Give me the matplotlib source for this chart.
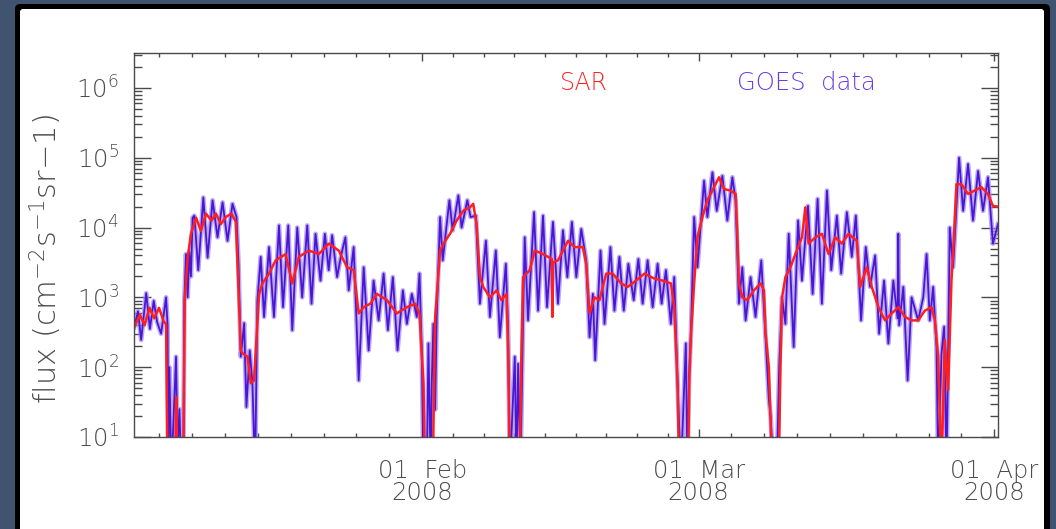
import matplotlib
matplotlib.use("Agg")
import matplotlib.pyplot as plt
import matplotlib.dates as mdates
import matplotlib.ticker as mticker
import numpy as np
from matplotlib.patches import FancyBboxPatch
from matplotlib.transforms import IdentityTransform

# flux as log10 exponents, time as days since 2008-01-01 00:00
goes_day = [
    0.80, 1.20, 1.53, 2.06, 2.45, 2.85, 3.20, 3.62, 4.14, 4.30, 4.38, 4.49, 4.70, 5.19,
    5.35, 5.54, 5.75, 5.95, 6.06, 6.23, 6.41, 6.58, 6.75, 6.93, 7.11, 7.52, 8.05, 8.50,
    9.02, 9.54, 10.07, 10.59, 11.11, 11.53, 11.74, 11.98, 12.33, 12.57, 12.92, 13.20,
    13.48, 13.72, 14.07, 14.42, 14.94, 15.46, 15.99, 16.41, 16.96, 17.38, 17.90, 18.42,
    18.95, 19.40, 19.82, 20.34, 20.80, 21.20, 21.56, 22.08, 22.50, 22.95, 23.30, 23.82,
    24.35, 24.87, 25.39, 25.91, 26.44, 26.96, 27.41, 27.93, 28.42, 28.98, 29.40, 29.92,
    30.44, 30.72, 30.96, 31.14, 31.49, 31.66, 31.90, 32.01, 32.18, 32.36, 32.53, 32.88,
    33.16, 33.86, 34.20, 34.80, 35.14, 35.74, 36.08, 36.64, 37.06, 37.69, 38.11, 38.73,
    39.15, 39.78, 40.02, 40.20, 40.72, 40.89, 41.07, 41.31, 41.59, 41.76, 42.11, 42.74,
    43.16, 43.68, 44.10, 44.72, 45.25, 45.77, 46.23, 46.71, 47.17, 47.69, 48.21, 48.56,
    48.91, 49.15, 49.71, 50.13, 50.75, 51.17, 51.69, 52.15, 52.63, 53.19, 53.68, 54.13,
    54.65, 55.18, 55.70, 56.12, 56.57, 57.09, 57.44, 57.79, 58.14, 58.66, 58.83, 59.01,
    59.18, 59.53, 59.88, 60.57, 60.92, 61.45, 61.90, 62.49, 63.01, 63.54, 63.88, 64.23,
    64.58, 64.93, 65.45, 65.97, 66.57, 67.02, 67.37, 67.55, 67.85, 68.20, 68.45, 68.75,
    69.10, 69.45, 69.97, 70.43, 70.84, 71.47, 71.96, 72.48, 72.93, 73.46, 73.91, 74.50,
    74.95, 75.55, 76.07, 76.49, 77.04, 77.53, 77.98, 78.51, 78.93, 79.45, 79.90, 80.42,
    80.87, 80.94, 81.03, 81.47, 81.92, 82.34, 83.03, 83.56, 83.91, 84.25, 84.60, 84.95,
    85.13, 85.47, 85.75, 86.00, 86.34, 86.69, 87.32, 87.74, 88.26, 88.78, 89.31, 89.83,
    90.35, 90.87, 91.40,
]
goes_exp = [
    2.57, 2.80, 2.39, 3.06, 2.55, 2.95, 2.65, 2.48, 3.00, 2.60, 0.50, 2.00, 0.50, 2.15,
    0.80, 1.40, 0.50, 0.50, 2.95, 3.62, 3.00, 3.65, 3.30, 4.14, 4.17, 3.39, 4.43, 3.57,
    4.39, 3.86, 4.36, 3.81, 4.34, 4.15, 3.49, 2.15, 2.63, 1.43, 2.24, 1.77,
    0.50, 2.95, 3.58, 2.72, 3.72, 2.72, 4.03, 2.86, 4.03, 2.53, 4.00, 3.00,
    4.03, 2.91, 3.91, 3.24, 3.91, 3.39, 3.89, 3.29, 3.60, 3.86, 3.10, 3.72,
    1.81, 3.43, 2.24, 3.24, 2.67, 3.34, 2.53, 3.29, 2.24, 3.10, 2.62, 3.05,
    2.72, 3.34, 2.24, 0.50, 0.50, 2.34, 0.50, 1.77, 2.62, 1.39, 2.72, 4.15,
    3.53, 4.39, 3.96, 4.46, 4.00, 4.39, 4.15, 4.17, 2.91, 3.81, 2.72, 3.67,
    2.43, 3.48, 2.53, 0.50, 2.15, 0.50, 2.05, 0.50, 2.72, 3.86, 2.67, 4.22,
    2.81, 4.17, 2.86, 4.08, 2.91, 3.96, 3.29, 4.08, 3.29, 3.98, 3.53, 2.43,
    3.05, 2.10, 3.67, 2.62, 3.72, 2.81, 3.58, 2.81, 3.48, 2.96, 3.55, 2.91,
    3.53, 2.86, 3.48, 2.91, 3.39, 2.62, 3.29, 1.77, 0.50, 2.34, 0.50, 1.91,
    2.43, 4.15, 3.43, 4.67, 4.15, 4.79, 4.24, 4.74, 4.10, 4.72, 4.39, 2.91,
    3.43, 2.67, 3.29, 2.72, 3.53, 2.43, 1.53, 1.30, 0.50, 0.50, 2.00, 3.00,
    2.62, 3.91, 2.29, 4.10, 3.24, 4.31, 3.05, 4.41, 2.91, 4.53, 3.39, 4.17,
    3.34, 4.22, 3.58, 4.17, 2.67, 3.72, 3.15, 3.60, 2.48, 3.24, 2.34, 3.24,
    2.70, 3.91, 2.60, 3.15, 1.81, 3.00, 2.67, 3.00, 3.62, 2.67, 3.15, 2.29,
    0.50, 2.19, 2.58, 0.50, 4.00, 3.43, 5.00, 4.24, 4.91, 4.10, 4.81, 4.24,
    4.72, 3.77, 4.05,
]

sar_day = [
    0.80, 1.40, 1.90, 2.40, 2.90, 3.40, 3.90, 4.14, 4.30, 5.10, 5.20, 5.35, 5.95, 6.10,
    6.41, 6.75, 7.30, 7.80, 8.33, 8.90, 9.37, 9.90, 10.40, 11.00, 11.46, 11.63, 11.98,
    12.16, 12.68, 13.03, 13.37, 13.72, 13.90, 14.25, 14.94, 15.64, 16.68, 17.38, 18.07,
    19.12, 20.17, 21.21, 22.26, 23.13, 23.82, 24.35, 24.87, 25.57, 26.26, 27.31, 28.35,
    29.40, 30.27, 30.72, 31.14, 31.31, 32.12, 32.36, 32.53, 32.88, 33.23, 33.93, 34.62,
    35.32, 36.02, 36.36, 36.71, 37.06, 37.41, 38.11, 38.80, 39.32, 39.85, 40.02, 40.20,
    41.24, 41.41, 41.59, 41.94, 42.29, 42.81, 43.68, 44.20, 44.60, 44.65, 44.72, 45.25,
    46.30, 46.99, 47.86, 48.21, 48.56, 49.08, 49.60, 50.30, 50.99, 51.87, 52.56, 53.43,
    54.31, 55.35, 56.22, 57.09, 57.44, 57.79, 57.96, 58.90, 59.01, 59.18, 59.53, 59.88,
    60.40, 60.92, 61.62, 62.14, 62.67, 63.36, 63.88, 64.06, 64.23, 64.58, 65.10, 65.80,
    66.50, 66.85, 67.02, 67.37, 67.71, 68.41, 68.58, 68.75, 69.10, 69.63, 70.15, 70.84,
    71.19, 71.54, 72.24, 72.93, 73.63, 74.33, 75.02, 75.72, 76.59, 76.94, 77.64, 78.16,
    78.86, 79.55, 80.25, 80.95, 81.64, 82.34, 83.03, 83.73, 84.43, 84.78, 85.12, 85.47,
    85.82, 86.17, 86.52, 86.80, 87.04, 87.56, 88.26, 88.96, 89.65, 90.35, 90.87, 91.40,
]
sar_exp = [
    2.57, 2.75, 2.60, 2.85, 2.70, 2.85, 2.65, 2.62, 0.50, 0.50, 1.57, 0.50, 0.50, 2.96,
    3.57, 3.91, 4.14, 3.95, 4.20, 4.10, 4.20, 4.05, 4.15, 4.20, 4.08, 3.50, 2.24,
    2.20, 2.15, 1.77, 1.81, 2.62, 3.05, 3.20, 3.34, 3.53, 3.62, 3.20, 3.58,
    3.67, 3.62, 3.77, 3.67, 3.43, 3.39, 2.77, 2.86, 2.91, 3.05, 2.96, 2.77,
    2.86, 2.91, 2.77, 1.77, 0.50, 0.50, 2.71, 3.00, 3.67, 3.77, 3.91, 4.10,
    4.24, 4.29, 4.34, 4.05, 3.29, 3.15, 3.00, 3.10, 2.96, 3.05, 2.24, 0.50,
    0.50, 2.15, 3.29, 3.34, 3.39, 3.67, 3.62, 3.58, 3.55, 2.72, 3.50, 3.53,
    3.81, 3.72, 3.72, 3.48, 2.77, 3.00, 2.96, 3.34, 3.34, 3.20, 3.15, 3.24,
    3.34, 3.27, 3.24, 3.20, 2.86, 1.77, 0.50, 0.50, 1.77, 2.43, 3.20, 3.86,
    4.15, 4.39, 4.58, 4.72, 4.55, 4.53, 4.48, 3.91, 3.20, 3.00, 2.96, 3.10,
    3.20, 3.10, 2.48, 2.00, 0.50, 0.50, 2.00, 3.00, 3.29, 3.43, 3.62, 3.86,
    4.29, 3.77, 3.86, 3.91, 3.62, 3.86, 3.77, 3.91, 3.81, 3.15, 3.43, 3.15,
    2.86, 2.67, 2.77, 2.86, 2.72, 2.67, 2.67, 2.81, 2.86, 2.67, 2.15, 0.50,
    2.39, 1.67, 3.24, 3.91, 4.62, 4.62, 4.48, 4.53, 4.58, 4.48, 4.31, 4.30,
]

month_starts = ["2008-01-01", "2008-02-01", "2008-03-01", "2008-04-01"]
labelled_months = month_starts[1:]

GOES_COLOR = "#4a16d2"
GOES_HALO = "#a48cf2"
SAR_COLOR = "#ff1f1f"
TEXT_COLOR = "#4d4d4d"
AXIS_COLOR = "#4a4a4a"

plt.rcParams["font.family"] = ["DejaVu Sans"]
plt.rcParams["font.weight"] = "light"
plt.rcParams["mathtext.default"] = "regular"

t0 = np.datetime64("2008-01-01T00:00")


def to_time(days):
    minutes = np.round(np.asarray(days, dtype=float) * 1440).astype("timedelta64[m]")
    return t0 + minutes


fig = plt.figure(figsize=(10.56, 5.29), dpi=100, facecolor="#40536f")

# slide frame: black border with white card on top
ident = IdentityTransform()
frame = FancyBboxPatch((15, -20), 1035, 545, boxstyle="round,pad=0,rounding_size=5",
                       facecolor="black", edgecolor="none", transform=ident, zorder=-3)
card = FancyBboxPatch((20, -20), 1024, 540, boxstyle="round,pad=0,rounding_size=3",
                      facecolor="white", edgecolor="none", transform=ident, zorder=-2)
fig.add_artist(frame)
fig.add_artist(card)

ax = fig.add_axes([134 / 1056, 1 - 437 / 529, 864 / 1056, 384 / 529])
ax.set_facecolor("white")

goes_t = to_time(goes_day)
goes_flux = 10 ** np.array(goes_exp)
ax.plot(goes_t, goes_flux, color=GOES_HALO, lw=3.4, alpha=0.75, solid_joinstyle="round")
ax.plot(goes_t, goes_flux, color=GOES_COLOR, lw=1.3)
ax.plot(to_time(sar_day), 10 ** np.array(sar_exp), color=SAR_COLOR, lw=1.8)

ax.set_yscale("log")
ax.set_ylim(10, 10 ** 6.5)
ax.set_xlim(to_time(0.78), to_time(91.4))

# x ticks: month starts labelled, each month split in nine
month_nums = mdates.date2num(np.array(month_starts, dtype="datetime64[D]"))
minor_nums = []
for a, b in zip(month_nums[:-1], month_nums[1:]):
    minor_nums.extend(a + (b - a) * k / 9 for k in range(1, 9))
ax.xaxis.set_major_locator(mticker.FixedLocator(
    mdates.date2num(np.array(labelled_months, dtype="datetime64[D]"))))
ax.xaxis.set_minor_locator(mticker.FixedLocator(minor_nums))
ax.xaxis.set_major_formatter(mdates.DateFormatter("%d  %b\n%Y"))

ax.yaxis.set_major_locator(mticker.LogLocator(base=10, numticks=10))
ax.yaxis.set_minor_locator(mticker.LogLocator(base=10, subs=np.arange(2, 10), numticks=20))
ax.yaxis.set_major_formatter(mticker.LogFormatterSciNotation())
ax.yaxis.set_minor_formatter(mticker.NullFormatter())

for side in ax.spines.values():
    side.set_color(AXIS_COLOR)
    side.set_linewidth(1.0)

ax.tick_params(which="both", direction="in", top=True, right=True,
               color=AXIS_COLOR, width=1.0, labelcolor=TEXT_COLOR, labelsize=17.5)
ax.tick_params(axis="x", which="major", length=5.5, pad=16)
ax.tick_params(axis="x", which="minor", length=2.8)
ax.tick_params(axis="y", which="major", length=12, pad=11)
ax.tick_params(axis="y", which="minor", length=6)

for lab in ax.get_xticklabels():
    lab.set_linespacing(0.9)

fig.text(46 / 1056, 1 - 259 / 529, "flux (cm$^{-2}$s$^{-1}$sr\u22121)", rotation=90,
         ha="center", va="center", fontsize=22, color=TEXT_COLOR)
fig.text(584 / 1056, 1 - 83 / 529, "SAR", ha="center", va="center",
         fontsize=17, color=SAR_COLOR)
fig.text(806 / 1056, 1 - 83 / 529, "GOES  data", ha="center", va="center",
         fontsize=17.5, color="#6a3fe0")

fig.savefig("out.png", dpi=100, facecolor=fig.get_facecolor())
